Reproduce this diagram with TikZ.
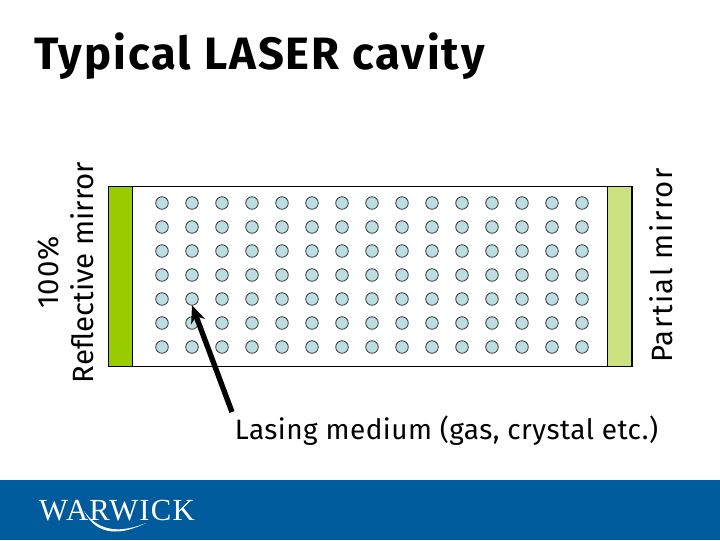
\documentclass[tikz,border=0pt]{standalone}
\usepackage{fontspec}
\usepackage{tikz}
\usetikzlibrary{arrows.meta}
\setmainfont{Fira Sans}
\newfontfamily\logofont[LetterSpace=4]{Liberation Serif}
\definecolor{mirrorfull}{RGB}{153,204,0}
\definecolor{mirrorpart}{RGB}{204,226,128}
\definecolor{atomfill}{RGB}{188,222,226}
\definecolor{footerblue}{RGB}{0,91,156}
\begin{document}
\begin{tikzpicture}[x=0.75pt,y=-0.75pt,
  every node/.style={inner sep=0pt,outer sep=0pt},
  mirror/.style={draw=black,line width=0.7pt,minimum width=18pt,minimum height=135pt},
  atom/.style={circle,draw=black!80,line width=0.6pt,fill=atomfill,minimum size=9.4pt},
  vlabel/.style={rotate=90,align=center,font=\fontsize{22}{26}\selectfont}]
\useasboundingbox (0,0) rectangle (720,540);
\fill[footerblue] (0,480) rectangle (720,540);
\node (title) at (259.5,56) {\fontsize{34}{40}\selectfont\bfseries\addfontfeature{LetterSpace=4.4}Typical LASER cavity};
\node (cavity) [draw=black,line width=0.7pt,minimum width=393pt,minimum height=135pt] at (370,276) {};
\node (back) [mirror,fill=mirrorfull] at (120,276) {};
\node (front) [mirror,fill=mirrorpart] at (619.5,276) {};
\foreach \c in {1,...,15}
  \foreach \r in {1,...,7}
    \node (atom-\c-\r) [atom] at (132+30*\c,179+24*\r) {};
\node (backlabel) [vlabel] at (66,272.5) {\addfontfeature{LetterSpace=2.4}100\%\\Reflective mirror};
\node (frontlabel) [vlabel] at (661,265.5) {\addfontfeature{LetterSpace=5}Partial mirror};
\node (medium) at (446.5,431) {\fontsize{21}{25}\selectfont\addfontfeature{LetterSpace=1.6}Lasing medium (gas, crystal etc.)};
\coordinate (tail) at (232,412);
\draw[-{Stealth[length=13pt,width=11pt]},line width=4pt] (tail) -- (atom-2-5.south);
\node (logo) [text=white] at (117,510.5) {\logofont\fontsize{23}{26}\selectfont WARWICK};
\fill[white] (84,511) .. controls (97,537) and (122,535) .. (146,523) .. controls (124,532) and (100,534) .. (84,511) -- cycle;
\end{tikzpicture}
\end{document}
